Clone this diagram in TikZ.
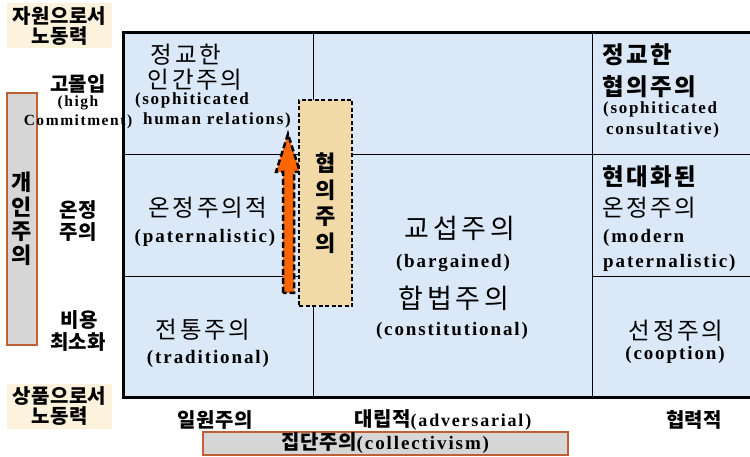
\documentclass[tikz,border=0pt]{standalone}
\usepackage{fontspec}
\newfontfamily\kr{Noto Sans CJK KR}
\newfontfamily\krS[LetterSpace=11]{Noto Sans CJK KR}
\newfontfamily\krL[LetterSpace=14]{Noto Sans CJK KR}
\newfontfamily\krT[LetterSpace=2]{Noto Sans CJK KR}
\newfontfamily\en[LetterSpace=10]{Liberation Serif}
\definecolor{cellblue}{RGB}{218,232,248}
\definecolor{beige}{RGB}{253,243,221}
\definecolor{tan}{RGB}{241,217,168}
\definecolor{orng}{RGB}{255,102,0}
\definecolor{brn}{RGB}{190,96,52}
\definecolor{marble}{RGB}{214,214,214}
\tikzset{
  lbl/.style={inner sep=0pt, text=black},
  cellkr/.style={lbl, font=\krS\fontsize{23.5}{27}\selectfont},
  cellkrb/.style={lbl, font=\krS\bfseries\fontsize{23.5}{27}\selectfont},
  bigkr/.style={lbl, font=\krL\fontsize{27}{30}\selectfont},
  enL/.style={lbl, font=\en\bfseries\fontsize{19}{22}\selectfont},
  enS/.style={lbl, font=\en\bfseries\fontsize{17}{20}\selectfont},
  enT/.style={lbl, font=\en\bfseries\fontsize{15.5}{19}\selectfont},
  side/.style={lbl, font=\krT\bfseries\fontsize{20}{22}\selectfont},
  beigebox/.style={side, fill=beige, minimum width=105pt, minimum height=45pt, align=center, font=\krT\bfseries\fontsize{20}{20}\selectfont},
  marblebar/.style={fill=marble, draw=brn, line width=1.2pt, inner sep=0pt},
  thin/.style={line width=1pt},
  thick/.style={line width=3pt},
}
\begin{document}
\begin{tikzpicture}[x=1pt,y=-1pt]
\useasboundingbox (0,0) rectangle (750,457);
% grid
\fill[cellblue] (123,33) rectangle (750,397);
\draw[thin] (313,33) -- (313,397);
\draw[thin] (592,33) -- (592,397);
\draw[thin] (123,155) -- (750,155);
\draw[thin] (123,277) -- (313,277);
\draw[thin] (592,277) -- (750,277);
\draw[thick] (750,33) -- (123,33) -- (123,397) -- (750,397);
% arrow
\draw[fill=orng, draw=black, line width=2.5pt, dash pattern=on 6pt off 3pt]
  (283,293) -- (283,172) -- (276,172) -- (288,134) -- (300,172) -- (294,172) -- (294,293) -- cycle;
% consultative box
\node[draw=black, fill=tan, line width=1.5pt, dash pattern=on 4pt off 2.5pt,
  minimum width=53pt, minimum height=206pt, inner sep=0pt, align=center,
  font=\krT\bfseries\fontsize{22}{26.5}\selectfont] (cons) at (325.5,203) {협\\의\\주\\의};
% side bars first (texts may overlap them)
\node[marblebar, minimum width=30pt, minimum height=252pt, align=center,
  font=\krT\bfseries\fontsize{22}{24.3}\selectfont] (ind) at (22,219) {개\\인\\주\\의};
\node[marblebar, minimum width=365pt, minimum height=23pt,
  font=\krT\bfseries\fontsize{20}{21}\selectfont] (coll) at (385.5,443.5) {집단주의{\en\bfseries\fontsize{19}{21}\selectfont(collectivism)}};
% left cells
\node[cellkr] (lt1) at (186,55) {정교한};
\node[cellkr] (lt2) at (195,80) {인간주의};
\node[enS] (lt3) at (192,100) {(sophiticated};
\node[enS] (lt4) at (217,120) {human relations)};
\node[cellkr] (lm1) at (208,208) {온정주의적};
\node[enL] (lm2) at (205,238) {(paternalistic)};
\node[cellkr] (lb1) at (203,330) {전통주의};
\node[enL] (lb2) at (208,359) {(traditional)};
% center
\node[bigkr] (c1) at (460,228) {교섭주의};
\node[enL] (c2) at (453,263) {(bargained)};
\node[bigkr] (c3) at (454,298) {합법주의};
\node[enL] (c4) at (452,331) {(constitutional)};
% right
\node[cellkrb, anchor=west] (rt1) at (602,55) {정교한};
\node[cellkrb, anchor=west] (rt2) at (602,87) {협의주의};
\node[enS, anchor=west] (rt3) at (603,109) {(sophiticated};
\node[enS, anchor=west] (rt4) at (606,130) {consultative)};
\node[cellkrb, anchor=west] (rm1) at (602,177) {현대화된};
\node[cellkr, anchor=west] (rm2) at (602,208) {온정주의};
\node[enL, anchor=west] (rm3) at (603,238) {(modern};
\node[enL, anchor=west] (rm4) at (603,263) {paternalistic)};
\node[cellkr] (rb1) at (676,331) {선정주의};
\node[enL] (rb2) at (675,355) {(cooption)};
% side labels
\node[beigebox] (res) at (59.5,26) {자원으로서\\노동력};
\node[beigebox] (com) at (59.5,406) {상품으로서\\노동력};
\node[side] (hi1) at (78,84) {고몰입};
\node[enT] (hi2) at (78,103) {(high};
\node[enT] (hi3) at (78,122) {Commitment)};
\node[side] (pa1) at (78,210) {온정};
\node[side] (pa2) at (78,232) {주의};
\node[side] (co1) at (79,320) {비용};
\node[side] (co2) at (78,342) {최소화};
% bottom labels
\node[side] (b1) at (215,420) {일원주의};
\node[side] (b2) at (443,420) {대립적{\en\bfseries\fontsize{18}{20}\selectfont(adversarial)}};
\node[side] (b3) at (694,420) {협력적};
\end{tikzpicture}
\end{document}
